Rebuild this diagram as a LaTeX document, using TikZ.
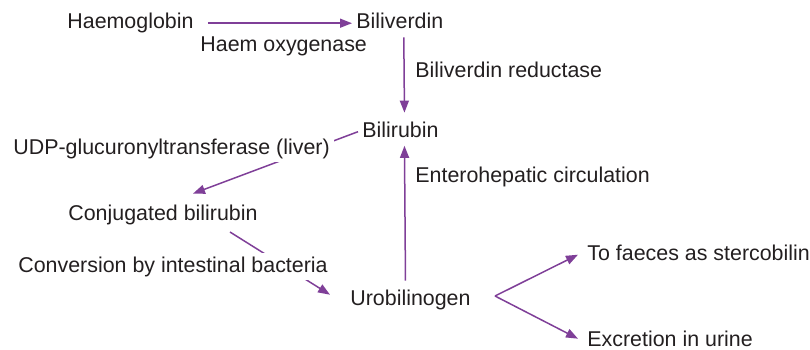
\documentclass[tikz,border=0pt]{standalone}
\usepackage{fontspec}
\setmainfont{Liberation Sans}
\definecolor{flowpurple}{RGB}{127,63,152}
\definecolor{txtgray}{RGB}{35,31,32}
\usetikzlibrary{arrows.meta,positioning}

\begin{document}
\begin{tikzpicture}[x=0.5pt,y=-0.5pt,
    term/.style={anchor=base west, inner sep=2pt, text=txtgray,
      font=\fontsize{10.7pt}{13pt}\selectfont, text height=0.75em, text depth=0.22em},
    enz/.style={term, fill=white},
    flow/.style={draw=flowpurple, line width=0.75pt, -{Triangle[length=6pt,width=4.5pt]}}
  ]
    \useasboundingbox (0,0) rectangle (810,349);

    % Compounds
    \node[term] (hb) at (63,28.5)  {Haemoglobin};
    \node[term] (bv) at (352,28.5) {Biliverdin};
    \node[term] (br) at (358,137) {Bilirubin};
    \node[term] (cb) at (64,220) {Conjugated bilirubin};
    \node[term] (ub) at (346,305) {Urobilinogen};
    \node[term] (sf) at (583,260) {To faeces as stercobilin};
    \node[term] (ur) at (583,346) {Excretion in urine};
    \coordinate (fork) at (495,296);

    % Conversions
    \draw[flow] ([xshift=5pt]hb.east) -- (bv.west);
    \draw[flow] ([xshift=2pt]bv.south) -- ([shift={(2pt,2.5pt)}]br.north);
    \draw[flow] (br.west) -- ([shift={(15pt,3.5pt)}]cb.north);
    \draw[flow] ([shift={(33.5pt,-1.6pt)}]cb.south) -- ([shift={(-8pt,2.5pt)}]ub.west);
    \draw[flow] ([shift={(-2.5pt,2.5pt)}]ub.north) -- ([xshift=2pt]br.south);
    \draw[flow] (fork) -- ([xshift=-2.5pt]sf.west);
    \draw[flow] (fork) -- ([shift={(-2.5pt,1pt)}]ur.west);

    % Enzymes and routes
    \node[enz] (ho)  at (196,51)  {Haem oxygenase};
    \node[enz] (bvr) at (411,77)  {Biliverdin reductase};
    \node[enz] (udp) at (9,154)   {UDP-glucuronyltransferase (liver)};
    \node[enz] (ehc) at (411,182) {Enterohepatic circulation};
    \node[enz] (cib) at (14,272)  {Conversion by intestinal bacteria};
\end{tikzpicture}
\end{document}
